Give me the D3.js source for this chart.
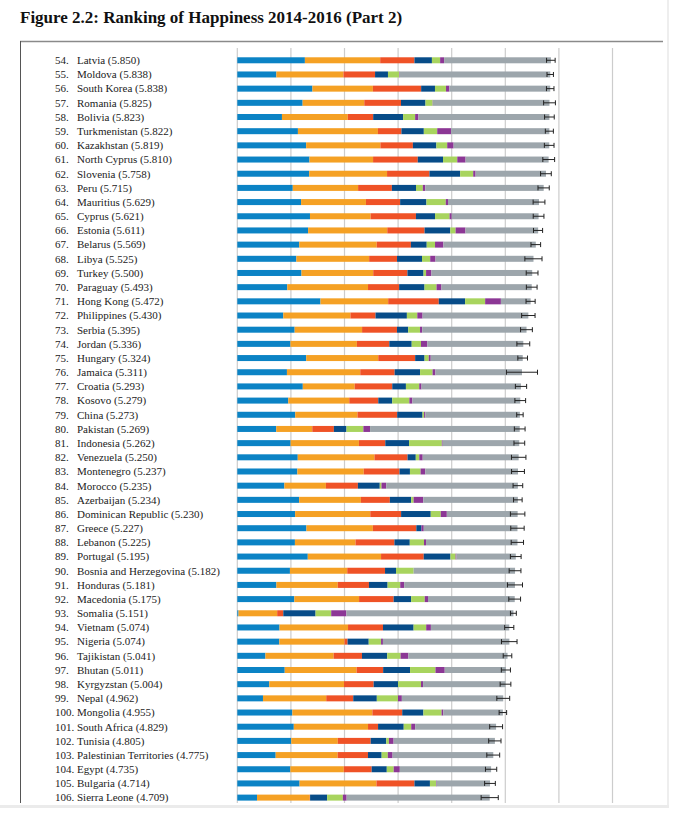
<!DOCTYPE html>
<html lang="en">
<head>
<meta charset="UTF-8">
<title>Ranking of Happiness 2014-2016 (Part 2)</title>
<script src="https://d3js.org/d3.v7.min.js"></script>
<style>
    body { margin: 0; background: #fff; }
    .label { font-family: "Liberation Serif", serif; font-size: 11px; fill: #222; }
    .title { font-family: "Liberation Serif", serif; font-size: 17px; font-weight: bold; fill: #111; }
</style>
</head>
<body>
<svg width="680" height="820"></svg>
<script>
// Chart data
const ranks = ["54.","55.","56.","57.","58.","59.","60.","61.","62.","63.","64.","65.","66.","67.","68.","69.","70.","71.","72.","73.","74.","75.","76.","77.","78.","79.","80.","81.","82.","83.","84.","85.","86.","87.","88.","89.","90.","91.","92.","93.","94.","95.","96.","97.","98.","99.","100.","101.","102.","103.","104.","105.","106."];
const countries = ["Latvia","Moldova","South Korea","Romania","Bolivia","Turkmenistan","Kazakhstan","North Cyprus","Slovenia","Peru","Mauritius","Cyprus","Estonia","Belarus","Libya","Turkey","Paraguay","Hong Kong","Philippines","Serbia","Jordan","Hungary","Jamaica","Croatia","Kosovo","China","Pakistan","Indonesia","Venezuela","Montenegro","Morocco","Azerbaijan","Dominican Republic","Greece","Lebanon","Portugal","Bosnia and Herzegovina","Honduras","Macedonia","Somalia","Vietnam","Nigeria","Tajikistan","Bhutan","Kyrgyzstan","Nepal","Mongolia","South Africa","Tunisia","Palestinian Territories","Egypt","Bulgaria","Sierra Leone"];
const scores = ["5.850","5.838","5.838","5.825","5.823","5.822","5.819","5.810","5.758","5.715","5.629","5.621","5.611","5.569","5.525","5.500","5.493","5.472","5.430","5.395","5.336","5.324","5.311","5.293","5.279","5.273","5.269","5.262","5.250","5.237","5.235","5.234","5.230","5.227","5.225","5.195","5.182","5.181","5.175","5.151","5.074","5.074","5.041","5.011","5.004","4.962","4.955","4.829","4.805","4.775","4.735","4.714","4.709"];

const gdp        = [1.261,0.729,1.402,1.219,0.833,1.131,1.285,1.347,1.341,1.035,1.190,1.356,1.321,1.156,1.102,1.198,0.932,1.552,0.858,1.070,0.992,1.286,0.926,1.222,0.951,1.081,0.727,0.995,1.128,1.121,0.878,1.154,1.079,1.290,1.075,1.315,0.982,0.730,1.064,0.023,0.788,0.784,0.525,0.885,0.597,0.479,1.027,1.054,1.007,0.716,0.990,1.162,0.368];
const social     = [1.405,1.252,1.128,1.150,1.228,1.493,1.385,1.186,1.453,1.219,1.210,1.132,1.477,1.445,1.358,1.338,1.507,1.263,1.253,1.258,1.239,1.344,1.368,0.968,1.138,1.161,0.672,1.274,1.431,1.238,0.775,1.152,1.402,1.239,1.130,1.367,1.069,1.144,1.208,0.721,1.278,1.216,1.272,1.340,1.394,1.180,1.493,1.385,0.868,1.156,0.997,1.434,0.984];
const health     = [0.639,0.589,0.900,0.685,0.474,0.438,0.606,0.834,0.791,0.630,0.638,0.845,0.696,0.638,0.520,0.638,0.580,0.944,0.468,0.651,0.605,0.688,0.641,0.701,0.541,0.741,0.403,0.492,0.617,0.667,0.597,0.540,0.575,0.811,0.726,0.796,0.705,0.582,0.645,0.114,0.652,0.057,0.529,0.496,0.553,0.504,0.557,0.187,0.614,0.566,0.520,0.709,0.006];
const freedom    = [0.326,0.241,0.258,0.457,0.558,0.418,0.438,0.471,0.573,0.450,0.491,0.356,0.480,0.295,0.466,0.301,0.474,0.491,0.585,0.209,0.418,0.176,0.475,0.255,0.260,0.473,0.235,0.443,0.154,0.195,0.408,0.398,0.553,0.096,0.287,0.499,0.205,0.348,0.326,0.602,0.571,0.395,0.471,0.502,0.455,0.440,0.395,0.479,0.290,0.255,0.282,0.289,0.318];
const generosity = [0.153,0.208,0.206,0.133,0.225,0.250,0.202,0.266,0.243,0.127,0.360,0.271,0.099,0.155,0.153,0.047,0.224,0.374,0.194,0.221,0.173,0.078,0.233,0.248,0.320,0.029,0.315,0.612,0.065,0.198,0.032,0.045,0.187,0.000,0.265,0.096,0.329,0.236,0.254,0.292,0.235,0.230,0.249,0.474,0.428,0.394,0.339,0.140,0.050,0.115,0.129,0.114,0.293];
const corruption = [0.074,0.010,0.063,0.004,0.061,0.259,0.120,0.155,0.045,0.047,0.042,0.041,0.184,0.156,0.099,0.100,0.092,0.294,0.099,0.041,0.119,0.037,0.053,0.043,0.057,0.023,0.125,0.015,0.064,0.088,0.088,0.181,0.113,0.043,0.038,0.016,0.000,0.073,0.061,0.283,0.088,0.035,0.146,0.173,0.039,0.073,0.033,0.073,0.087,0.089,0.114,0.011,0.071];
const dystopia   = [1.993,2.810,1.881,2.176,2.444,1.833,1.784,1.549,1.313,2.208,1.698,1.620,1.356,1.724,1.828,1.880,1.684,0.555,1.973,1.946,1.790,1.716,1.615,1.855,2.012,1.764,2.792,1.429,1.790,1.730,2.457,1.764,1.321,1.748,1.706,1.107,1.892,2.067,1.618,3.117,1.462,2.359,1.850,1.140,1.538,1.891,1.111,1.510,1.890,1.879,1.703,0.996,2.669];
// half width of the 95% confidence whisker
const ciHalf     = [0.080,0.060,0.070,0.110,0.090,0.075,0.090,0.110,0.100,0.105,0.110,0.100,0.085,0.090,0.160,0.110,0.100,0.085,0.125,0.110,0.120,0.090,0.290,0.105,0.100,0.060,0.100,0.100,0.135,0.120,0.090,0.080,0.135,0.125,0.115,0.100,0.110,0.140,0.110,0.055,0.085,0.145,0.080,0.085,0.100,0.120,0.070,0.120,0.115,0.120,0.105,0.100,0.160];

const keys = ["gdp","social","health","freedom","generosity","corruption","dystopia"];
const colors = ["#0b83c5","#f5a124","#ef5226","#074c88","#a8d45e","#8c3795","#9da6ac"];
const xTicks = [0,1,2,3,4,5,6,7];

const svg = d3.select("svg");

const x = d3.scaleLinear().domain([0, 7]).range([237.3, 612.5]);
const y = d3.scaleBand().domain(countries).range([53.2, 804.7]).padding(0);
const color = d3.scaleOrdinal().domain(keys).range(colors);
const barH = 6;
const mid = c => y(c) + y.bandwidth() / 2;

// Title
svg.append("text")
    .attr("class", "title")
    .attr("x", 20)
    .attr("y", 23)
    .text("Figure 2.2: Ranking of Happiness 2014-2016 (Part 2)");

// Frame
svg.append("line")
    .attr("x1", 20).attr("x2", 663)
    .attr("y1", 41.5).attr("y2", 41.5)
    .attr("stroke", "#8a8a8a").attr("stroke-width", 1.6);
svg.append("line")
    .attr("x1", 20.5).attr("x2", 20.5)
    .attr("y1", 41).attr("y2", 803)
    .attr("stroke", "#555").attr("stroke-width", 1);
svg.append("line")
    .attr("x1", 668).attr("x2", 668)
    .attr("y1", 0).attr("y2", 807)
    .attr("stroke", "#eeeeee").attr("stroke-width", 2);
svg.append("rect")
    .attr("x", 0).attr("y", 805)
    .attr("width", 669).attr("height", 3)
    .attr("fill", "#ebebeb");

// Gridlines
svg.append("g")
    .selectAll("line")
    .data(xTicks)
    .join("line")
    .attr("x1", d => x(d)).attr("x2", d => x(d))
    .attr("y1", 48).attr("y2", 803)
    .attr("stroke", "#cccccc")
    .attr("stroke-width", 1.2);

// Stacked bars
const rows = countries.map((c, i) => ({
    country: c,
    gdp: gdp[i], social: social[i], health: health[i], freedom: freedom[i],
    generosity: generosity[i], corruption: corruption[i], dystopia: dystopia[i]
}));
const series = d3.stack().keys(keys)(rows);

svg.append("g")
    .selectAll("g")
    .data(series)
    .join("g")
    .attr("fill", d => color(d.key))
    .selectAll("rect")
    .data(d => d)
    .join("rect")
    .attr("x", d => x(d[0]))
    .attr("width", d => Math.max(0, x(d[1]) - x(d[0])))
    .attr("y", d => mid(d.data.country) - barH / 2)
    .attr("height", barH);

// Confidence whiskers
const whisk = svg.append("g").attr("stroke", "#222").attr("stroke-width", 1);
countries.forEach((c, i) => {
    const s = +scores[i];
    const lo = x(s - ciHalf[i]), hi = x(s + ciHalf[i]), cy = mid(c);
    whisk.append("line").attr("x1", lo).attr("x2", hi).attr("y1", cy).attr("y2", cy);
    whisk.append("line").attr("x1", lo).attr("x2", lo).attr("y1", cy - 2.5).attr("y2", cy + 2.5);
    whisk.append("line").attr("x1", hi).attr("x2", hi).attr("y1", cy - 2.5).attr("y2", cy + 2.5);
});

// Labels
const labels = svg.append("g");
labels.selectAll(".rank")
    .data(countries)
    .join("text")
    .attr("class", "label rank")
    .attr("x", 55)
    .attr("y", d => mid(d))
    .attr("dy", "0.35em")
    .text((d, i) => ranks[i]);
labels.selectAll(".name")
    .data(countries)
    .join("text")
    .attr("class", "label name")
    .attr("x", 77)
    .attr("y", d => mid(d))
    .attr("dy", "0.35em")
    .text((d, i) => d + " (" + scores[i] + ")");
</script>
</body>
</html>
